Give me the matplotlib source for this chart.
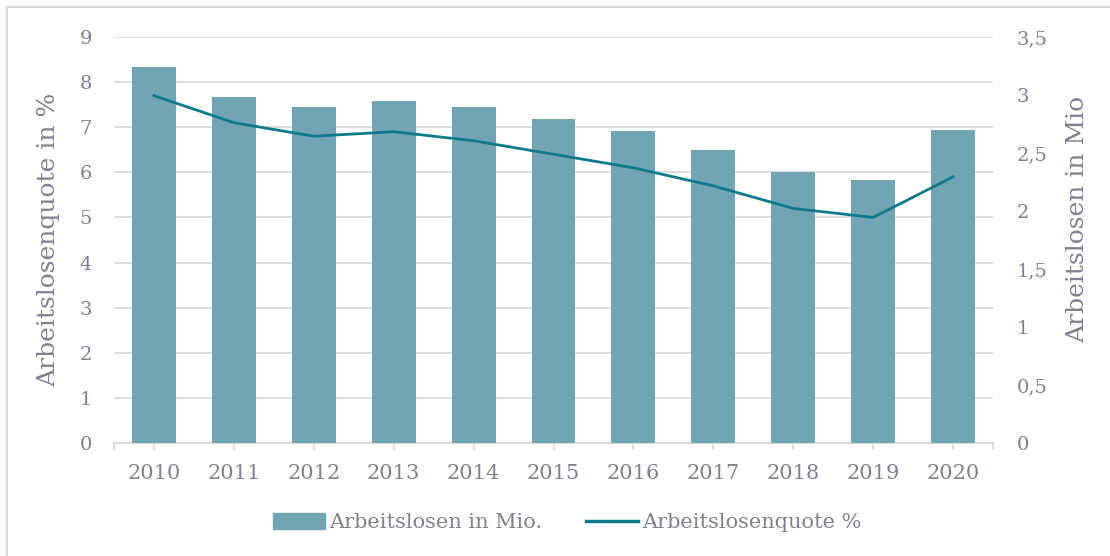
import numpy as np
import matplotlib.pyplot as plt
from matplotlib.patches import Rectangle
from matplotlib.lines import Line2D

# Data
years = ['2010', '2011', '2012', '2013', '2014', '2015',
         '2016', '2017', '2018', '2019', '2020']
arbeitslose_mio = [3.24, 2.98, 2.90, 2.95, 2.90, 2.79, 2.69, 2.53, 2.34, 2.27, 2.70]
quote_pct = [7.7, 7.1, 6.8, 6.9, 6.7, 6.4, 6.1, 5.7, 5.2, 5.0, 5.9]

left_ticks = list(range(0, 10))
right_ticks = [0, 0.5, 1, 1.5, 2, 2.5, 3, 3.5]
right_labels = ['0', '0,5', '1', '1,5', '2', '2,5', '3', '3,5']

BAR_COLOR = '#71a5b3'
LINE_COLOR = '#0e7a8c'
TEXT_COLOR = '#7f8090'
GRID_COLOR = '#d9d9d9'

plt.rcParams['font.family'] = ['DejaVu Serif']

fig = plt.figure(figsize=(11.1, 5.56), dpi=100)
ax = fig.add_axes([0.1027, 0.2032, 0.7919, 0.7303])
x = np.arange(len(years))

# Left axis: percent scale with gridlines
ax.set_ylim(0, 9)
ax.set_xlim(-0.5, len(years) - 0.5)
ax.set_yticks(left_ticks)
ax.yaxis.grid(True, color=GRID_COLOR, linewidth=1.3)
ax.set_axisbelow(True)
for s in ['top', 'left', 'right']:
    ax.spines[s].set_visible(False)
ax.spines['bottom'].set_color(GRID_COLOR)
ax.spines['bottom'].set_linewidth(1.3)
ax.tick_params(axis='y', length=0, labelsize=14, colors=TEXT_COLOR, pad=16)
ax.set_xticks(x)
ax.set_xticklabels(years)
ax.set_xticks([-0.5, len(years) - 0.5], minor=True)
ax.tick_params(axis='x', which='both', length=5, width=1.3, color=GRID_COLOR,
               labelsize=15, labelcolor=TEXT_COLOR, pad=10)
ax.set_ylabel('Arbeitslosenquote in %', fontsize=18, color=TEXT_COLOR, labelpad=14)

# Right axis: bars in millions
ax2 = ax.twinx()
ax2.bar(x, arbeitslose_mio, width=0.55, color=BAR_COLOR, zorder=2)
ax2.set_ylim(0, 3.5)
ax2.set_yticks(right_ticks)
ax2.set_yticklabels(right_labels)
for s in ['top', 'left', 'right', 'bottom']:
    ax2.spines[s].set_visible(False)
ax2.tick_params(axis='y', length=0, labelsize=14, colors=TEXT_COLOR, pad=17)
ax2.set_ylabel('Arbeitslosen in Mio', fontsize=18, color=TEXT_COLOR)
ax2.yaxis.set_label_coords(1.083, 0.55)

# Top layer: line on percent scale
ax3 = ax.twinx()
ax3.set_ylim(0, 9)
ax3.plot(x, quote_pct, color=LINE_COLOR, linewidth=2)
ax3.set_axis_off()

# Legend
handles = [Rectangle((0, 0), 1, 1, color=BAR_COLOR),
           Line2D([], [], color=LINE_COLOR, linewidth=2.5)]
fig.legend(handles, ['Arbeitslosen in Mio.', 'Arbeitslosenquote %'],
           loc='center', bbox_to_anchor=(0.511, 0.06), ncol=2, frameon=False,
           fontsize=15, labelcolor=TEXT_COLOR, handlelength=2.5, handleheight=0.77,
           handletextpad=0.2, columnspacing=2.1)

# Outer frame (left and top edges visible)
fig.add_artist(Rectangle((0.0065, -0.05), 1.1, 1.037, transform=fig.transFigure,
                         fill=False, edgecolor=GRID_COLOR, linewidth=1.5))

fig.savefig('out.png', dpi=100)
